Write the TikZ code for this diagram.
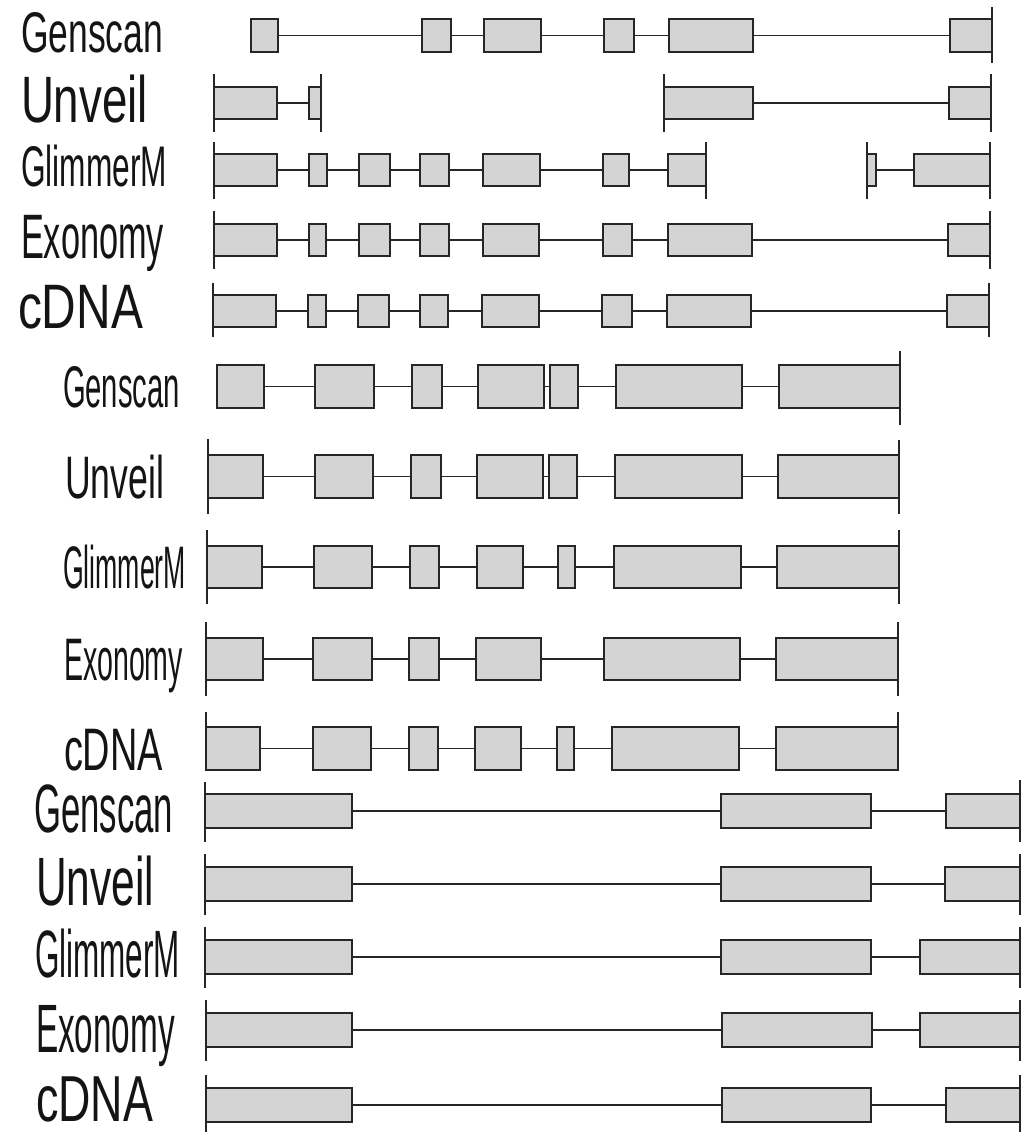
\documentclass[tikz,border=0pt]{standalone}
\usepackage{fontspec}
\setmainfont{Liberation Sans}
\usepackage{graphicx}

\tikzset{
  exon/.style={draw=black!85, line width=2.1pt, fill=black!17,
    rectangle, inner sep=0pt, outer sep=0pt},
  intron/.style={draw=black!85, line width=1.8pt},
  endbar/.style={draw=black!85, line width=1.9pt},
  lab/.style={inner sep=0pt, outer sep=0pt, text=black!92, anchor=base west}
}

% a run of exons (left/right in pt) joined by introns
% #1 name prefix, #2 centre y, #3 box height, #4 list of left/right
\newcommand\exonchain[4]{%
  \foreach [count=\i] \a/\b in {#4} {%
    \node[exon, minimum width={(\b-\a)*1pt}, minimum height=#3pt]
      (#1-\i) at ({(\a+\b)/2},#2) {};
    \ifnum\i>1
      \pgfmathtruncatemacro\j{\i-1}%
      \draw[intron] (#1-\j.east) -- (#1-\i.west);
    \fi
  }%
}
% vertical bar closing a gene: #1 name, #2 x, #3 top, #4 bottom
\newcommand\genebar[4]{%
  \coordinate (#1-t) at (#2,#3);
  \coordinate (#1-b) at (#2,#4);
  \draw[endbar] (#1-t) -- (#1-b);
}
% row caption: #1 name, #2 x, #3 baseline, #4 width, #5 font size, #6 text
\newcommand\rowlabel[6]{%
  \node[lab] (#1) at (#2,#3)
    {\resizebox{#4pt}{\height}{\fontsize{#5pt}{#5pt}\selectfont #6}};
}

\begin{document}
\begin{tikzpicture}[x=1pt, y=-1pt]
\useasboundingbox (0,0) rectangle (1023,1132);

% ---------------- first gene ----------------
\rowlabel{a-gen}{21}{53}{142}{57.3}{Genscan}
\rowlabel{a-unv}{21}{122}{127}{65.6}{Unveil}
\rowlabel{a-glm}{21}{186}{146}{57.3}{GlimmerM}
\rowlabel{a-exo}{21}{258}{143}{62.8}{Exonomy}
\rowlabel{a-cdn}{18}{328}{125}{62.8}{cDNA}

\exonchain{a1}{35.5}{33}{251/278, 422/451, 484/541, 604/634, 669/753, 950/992}
\genebar{a1r}{992}{7}{63}

\exonchain{a2}{103}{32}{214/277, 309/321}
\exonchain{a2b}{103}{32}{664/753, 949/991}
\genebar{a2l}{214}{74}{132}
\genebar{a2m}{321}{74}{132}
\genebar{a2n}{664}{74}{132}
\genebar{a2r}{991}{74}{132}

\exonchain{a3}{170}{32}{214/277, 309/327, 359/390, 420/449, 483/540, 603/629, 668/706}
\exonchain{a3b}{170}{32}{867/876, 914/990}
\genebar{a3l}{214}{142}{199}
\genebar{a3m}{706}{142}{199}
\genebar{a3n}{867}{142}{199}
\genebar{a3r}{990}{142}{199}

\exonchain{a4}{240}{32}{214/277, 309/326, 359/390, 420/449, 483/539, 603/632, 668/752, 948/990}
\genebar{a4l}{214}{211}{269}
\genebar{a4r}{990}{211}{269}

\exonchain{a5}{311}{32}{213/276, 308/326, 358/389, 420/448, 482/539, 602/632, 667/751, 947/989}
\genebar{a5l}{213}{283}{337}
\genebar{a5r}{989}{283}{337}

% ---------------- second gene ----------------
\rowlabel{b-gen}{63}{407}{117}{58.7}{Genscan}
\rowlabel{b-unv}{65}{498}{99}{60}{Unveil}
\rowlabel{b-glm}{63}{588}{123}{60}{GlimmerM}
\rowlabel{b-exo}{64}{680}{119}{60}{Exonomy}
\rowlabel{b-cdn}{64}{770}{99}{60}{cDNA}

\exonchain{b1}{386.5}{43}{217/264, 315/374, 412/442, 478/544, 550/578, 616/742, 779/900}
\genebar{b1r}{900}{351}{425}

\exonchain{b2}{476.5}{43}{208/263, 315/373, 411/441, 477/543, 549/577, 615/742, 778/899}
\genebar{b2l}{208}{439}{514}
\genebar{b2r}{899}{440}{514}

\exonchain{b3}{567}{42}{207/262, 314/372, 410/439, 477/523, 558/575, 614/741, 777/899}
\genebar{b3l}{207}{530}{604}
\genebar{b3r}{899}{530}{604}

\exonchain{b4}{659}{42}{206/263, 313/372, 409/439, 476/541, 604/740, 776/898}
\genebar{b4l}{206}{622}{696}
\genebar{b4r}{898}{622}{696}

\exonchain{b5}{748.5}{43}{206/260, 313/371, 409/438, 475/521, 557/574, 612/739, 776/898}
\genebar{b5l}{206}{712}{771}
\genebar{b5r}{898}{712}{771}

% ---------------- third gene ----------------
\rowlabel{c-gen}{34}{832}{139}{68.4}{Genscan}
\rowlabel{c-unv}{36}{905}{118}{68.4}{Unveil}
\rowlabel{c-glm}{35}{977}{145}{67}{GlimmerM}
\rowlabel{c-exo}{36}{1052}{139}{68.4}{Exonomy}
\rowlabel{c-cdn}{36}{1121}{117}{65}{cDNA}

\exonchain{c1}{811}{34}{205/352, 721/871, 946/1020}
\genebar{c1l}{205}{782}{842}
\genebar{c1r}{1020}{780}{842}

\exonchain{c2}{884}{34}{205/352, 721/871, 945/1020}
\genebar{c2l}{205}{854}{915}
\genebar{c2r}{1020}{854}{915}

\exonchain{c3}{957}{34}{205/352, 721/871, 920/1020}
\genebar{c3l}{205}{927}{988}
\genebar{c3r}{1020}{927}{988}

\exonchain{c4}{1030}{34}{206/352, 722/872, 920/1020}
\genebar{c4l}{206}{1000}{1061}
\genebar{c4r}{1020}{1000}{1061}

\exonchain{c5}{1105}{34}{206/352, 722/871, 946/1020}
\genebar{c5l}{206}{1075}{1132}
\genebar{c5r}{1020}{1075}{1132}
\end{tikzpicture}
\end{document}
